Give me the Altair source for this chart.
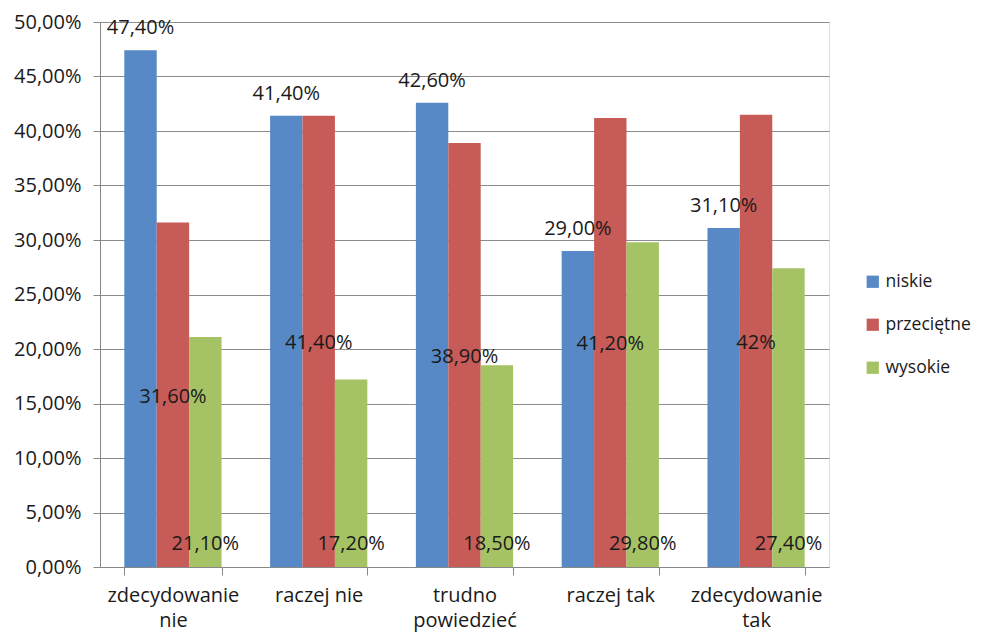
import altair as alt
import pandas as pd

categories = ["zdecydowanie nie", "raczej nie", "trudno powiedzieć", "raczej tak", "zdecydowanie tak"]
series = ["niskie", "przeciętne", "wysokie"]
niskie = [0.474, 0.414, 0.426, 0.290, 0.311]
przecietne = [0.316, 0.414, 0.389, 0.412, 0.415]
wysokie = [0.211, 0.172, 0.185, 0.298, 0.274]
labels_niskie = ["47,40%", "41,40%", "42,60%", "29,00%", "31,10%"]
labels_przecietne = ["31,60%", "41,40%", "38,90%", "41,20%", "42%"]
labels_wysokie = ["21,10%", "17,20%", "18,50%", "29,80%", "27,40%"]
colors = ["#5689C5", "#C75B58", "#A5C364"]

rows = []
for s, vals, labs in zip(series, [niskie, przecietne, wysokie],
                         [labels_niskie, labels_przecietne, labels_wysokie]):
    for c, v, l in zip(categories, vals, labs):
        rows.append({"cat": c, "series": s, "value": v, "label": l, "half": v / 2})
df = pd.DataFrame(rows)

FONT = "Open Sans"
FS = 20
TXT = "#1a1a1a"

x = alt.X("cat:N", sort=categories, title=None,
          scale=alt.Scale(paddingInner=0.333, paddingOuter=0.1667),
          axis=alt.Axis(labelAngle=0, labelFont=FONT, labelFontSize=FS, labelColor=TXT,
                        labelExpr="indexof(datum.label,'raczej')==0 ? datum.label : split(datum.label,' ')",
                        labelLineHeight=25, labelPadding=10, tickBand="extent", tickSize=8,
                        tickColor="#888888", domainColor="#888888", grid=False))
xo = alt.XOffset("series:N", sort=series, scale=alt.Scale(paddingInner=0, paddingOuter=0))
y = alt.Y("value:Q", title=None,
          scale=alt.Scale(domain=[0, 0.5], nice=False),
          axis=alt.Axis(values=[i * 0.05 for i in range(11)],
                        labelExpr="replace(format(datum.value,'.2%'),'.',',')",
                        labelFont=FONT, labelFontSize=FS, labelColor=TXT,
                        tickSize=7, labelPadding=12, tickColor="#888888", domainColor="#888888",
                        grid=True, gridColor="#8c8c8c", gridWidth=1))
color = alt.Color("series:N", sort=series, title=None,
                  scale=alt.Scale(domain=series, range=colors),
                  legend=alt.Legend(orient="none", legendX=764, legendY=251,
                                    symbolType="square", symbolSize=150, symbolStrokeWidth=0,
                                    labelFont=FONT, labelFontSize=17.5, labelColor=TXT,
                                    rowPadding=24, labelOffset=4))

base = alt.Chart(df)
bars = base.mark_bar(size=32.4).encode(x=x, xOffset=xo, y=y, color=color)

t_blue = base.transform_filter(alt.datum.series == "niskie").mark_text(
    font=FONT, fontSize=FS, color=TXT, baseline="alphabetic", dy=-16
).encode(x=x, xOffset=xo, y=alt.Y("value:Q"), text="label:N")

t_red = base.transform_filter(alt.datum.series == "przeciętne").mark_text(
    font=FONT, fontSize=FS, color=TXT, baseline="middle", dy=2
).encode(x=x, xOffset=xo, y=alt.Y("half:Q"), text="label:N")

t_green = base.transform_filter(alt.datum.series == "wysokie").mark_text(
    font=FONT, fontSize=FS, color=TXT, baseline="middle", dy=-23
).encode(x=x, xOffset=xo, y=alt.Y("zero:Q"), text="label:N").transform_calculate(zero="0")

chart = alt.layer(bars, t_blue, t_red, t_green).properties(
    width=729, height=545,
    autosize=alt.AutoSizeParams(type="none"),
    padding={"left": 92, "top": 14, "right": 147, "bottom": 66},
).configure_view(stroke=None).configure(background="white")

chart.save("out.html", embed_options={"renderer": "svg", "actions": False})
